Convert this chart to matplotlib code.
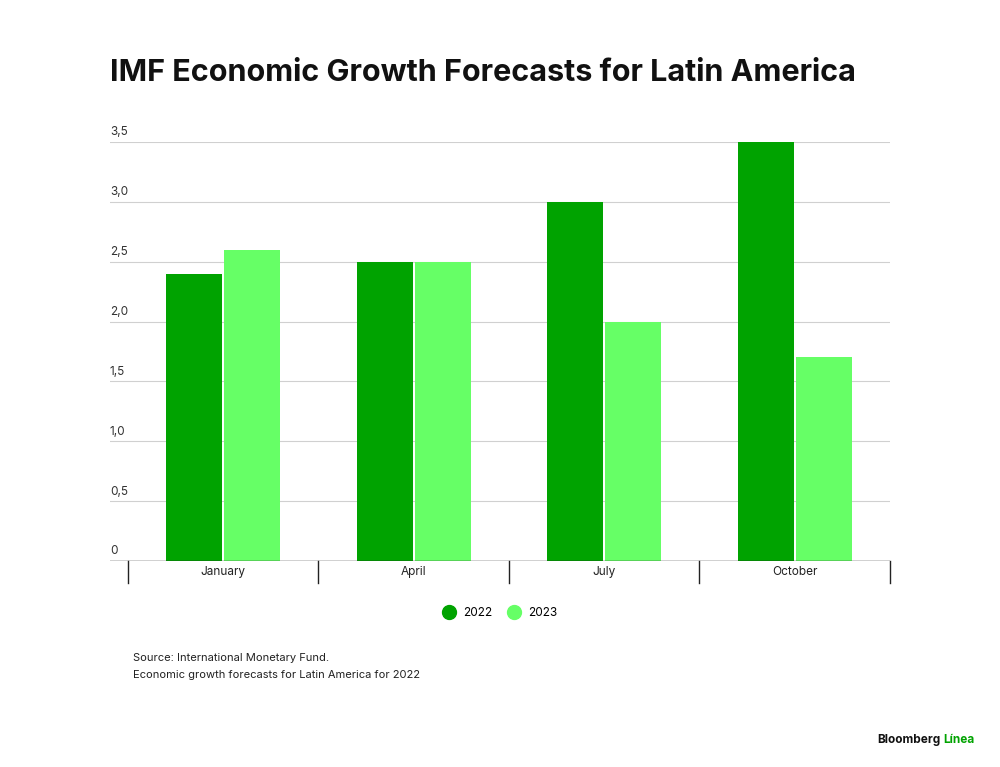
import matplotlib
matplotlib.use("Agg")
import matplotlib.pyplot as plt
from matplotlib.lines import Line2D

months = ["January", "April", "July", "October"]
v2022 = [2.4, 2.5, 3.0, 3.5]
v2023 = [2.6, 2.5, 2.0, 1.7]
yticks = [0, 0.5, 1.0, 1.5, 2.0, 2.5, 3.0, 3.5]
ylabels = ["0", "0,5", "1,0", "1,5", "2,0", "2,5", "3,0", "3,5"]
c22, c23 = "#00a300", "#66ff66"

fig = plt.figure(figsize=(10, 7.67), dpi=100)
ax = fig.add_axes([0.11, 0.2686, 0.78, 0.5463])
x = list(range(len(months)))
ax.bar([i - 0.152 for i in x], v2022, width=0.295, color=c22, zorder=3)
ax.bar([i + 0.152 for i in x], v2023, width=0.295, color=c23, zorder=3)
ax.set_xlim(-0.594, 3.5)
ax.set_ylim(0, 3.5)
for s in ax.spines.values():
    s.set_visible(False)
ax.set_yticks([])
ax.set_xticks([])
for t, l in zip(yticks, ylabels):
    ax.axhline(t, color="#d0d0d0", lw=0.8, zorder=1)
    ax.text(-0.594, t + 0.03, l, fontsize=8.5, color="#333333", ha="left", va="bottom", family="Inter")
ax.axhline(0, color="#222222", lw=1, zorder=4)
for b in [-0.5, 0.5, 1.5, 2.5, 3.5]:
    ax.plot([b, b], [0, -0.18], color="#222222", lw=1, clip_on=False)
for i, m in enumerate(months):
    ax.text(i, -0.095, m, ha="center", va="center", fontsize=8.5, color="#222222", family="Inter")

handles = [Line2D([], [], marker="o", ls="", ms=10, color=c22),
           Line2D([], [], marker="o", ls="", ms=10, color=c23)]
fig.legend(handles, ["2022", "2023"], loc="center", bbox_to_anchor=(0.497, 1 - 613 / 767),
           ncol=2, frameon=False, handletextpad=0.2, columnspacing=0.8,
           prop={"family": "Inter", "size": 8.5})

fig.text(0.11, 1 - 73 / 767, "IMF Economic Growth Forecasts for Latin America", fontsize=22,
         fontweight="bold", va="center", ha="left", family="Inter", color="#111111")
fig.text(0.133, 1 - 658 / 767, "Source: International Monetary Fund.", fontsize=8,
         va="center", family="Inter", color="#222222")
fig.text(0.133, 1 - 675 / 767, "Economic growth forecasts for Latin America for 2022", fontsize=8,
         va="center", family="Inter", color="#222222")
fig.text(0.940, 1 - 740 / 767, "Bloomberg", fontsize=8.5, fontweight="bold", ha="right",
         va="center", family="Inter", color="#111111")
fig.text(0.943, 1 - 740 / 767, "Línea", fontsize=8.5, fontweight="bold", ha="left",
         va="center", family="Inter", color="#00a300")
fig.savefig("out.png", dpi=100)
